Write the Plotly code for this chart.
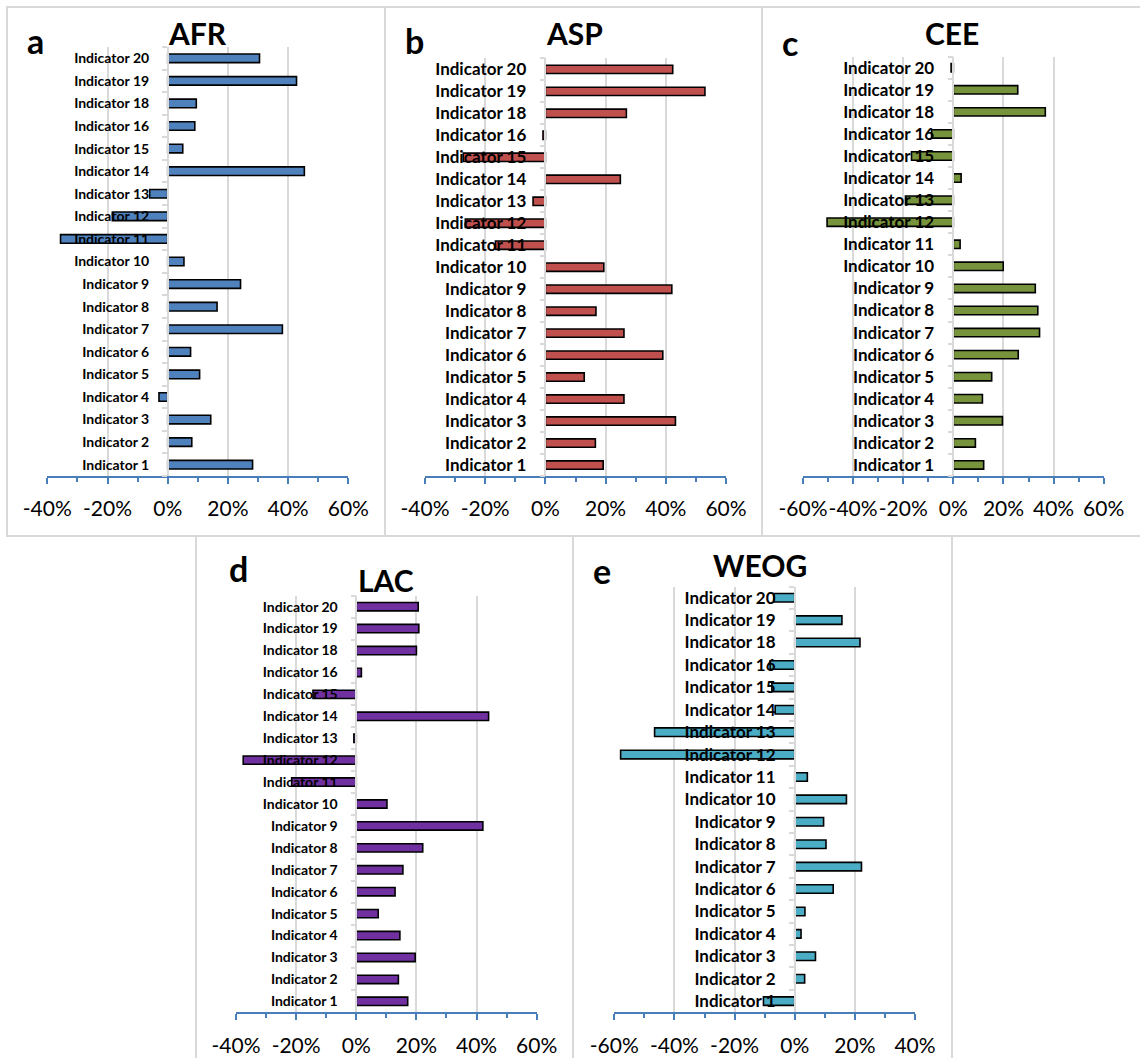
import plotly.graph_objects as go

W, H = 1140, 1058

categories = [f"Indicator {i}" for i in range(1, 17)] + ["Indicator 18", "Indicator 19", "Indicator 20"]

afr = [28.2, 8.0, 14.3, -2.9, 10.6, 7.6, 38.1, 16.4, 24.2, 5.4, -35.6, -18.4, -6.0, 45.4, 5.0, 9.0, 9.5, 42.8, 30.5]
asp = [19.2, 16.6, 43.2, 26.1, 12.9, 39.0, 26.1, 16.8, 42.0, 19.4, -16.6, -26.6, -4.1, 24.9, -27.3, -0.8, 26.9, 53.0, 42.3]
cee = [12.1, 8.8, 19.6, 11.6, 15.3, 25.9, 34.4, 33.7, 32.7, 19.9, 2.7, -50.4, -19.1, 3.1, -16.7, -8.7, 36.7, 25.7, -0.9]
lac = [17.1, 14.0, 19.6, 14.5, 7.3, 12.9, 15.5, 22.1, 42.1, 10.2, -21.5, -37.6, -0.8, 44.0, -14.4, 1.7, 20.0, 20.8, 20.6]
weog = [-10.4, 3.3, 6.9, 2.1, 3.4, 12.8, 22.2, 10.4, 9.6, 17.2, 4.2, -57.9, -46.6, -6.5, -7.6, -8.2, 21.7, 15.7, -6.9]

titles = ["AFR", "ASP", "CEE", "LAC", "WEOG"]
letters = ["a", "b", "c", "d", "e"]
x_ticks_ab = [-40, -20, 0, 20, 40, 60]
x_ticks_c = [-60, -40, -20, 0, 20, 40, 60]
x_ticks_e = [-60, -40, -20, 0, 20, 40]

series = [afr, asp, cee, lac, weog]
colors = ["#4F81BD", "#C0504D", "#77933C", "#7030A0", "#4BACC6"]
tickvals = [x_ticks_ab, x_ticks_ab, x_ticks_c, x_ticks_ab, x_ticks_e]

# panel geometry in pixels: plot area x0,x1,y0(top),y1(bottom)
geo = [
    (47.3, 348.3, 47.0, 476.0),
    (425.0, 726.0, 58.4, 476.0),
    (803.0, 1103.7, 56.7, 476.0),
    (236.0, 536.7, 595.7, 1012.3),
    (614.3, 915.0, 586.5, 1012.3),
]
label_size = [14, 17, 17, 14, 17]
title_pos = [(197, 33), (574, 33), (952, 33), (386, 580), (760, 565)]
letter_pos = [(35, 40), (414, 40), (790, 42), (238, 568), (602, 570)]
borders = [(7, 7, 385, 536), (385, 7, 762, 536), (762, 7, 1146, 536),
           (196, 536, 573, 1066), (573, 536, 952, 1066)]

FONT = "Lato"
AXBLUE = "#4A7EBB"
GRID = "#D9D9D9"

fig = go.Figure()
layout = dict(
    width=W, height=H, margin=dict(l=0, r=0, t=0, b=0, autoexpand=False),
    paper_bgcolor="white", plot_bgcolor="white", showlegend=False,
    font=dict(family=FONT, color="black"),
    annotations=[], shapes=[],
)

def px(x):
    return x / W

def py(y):
    return 1 - y / H

for i, vals in enumerate(series):
    n = "" if i == 0 else str(i + 1)
    x0, x1, y0, y1 = geo[i]
    tv = tickvals[i]
    r0, r1 = tv[0], tv[-1]
    fig.add_trace(go.Bar(
        x=vals, y=categories, orientation="h", width=0.38,
        marker=dict(color=colors[i], line=dict(color="black", width=1.6)),
        xaxis="x" + n, yaxis="y" + n, hoverinfo="x+y",
    ))
    zero_px = x0 + (0 - r0) / (r1 - r0) * (x1 - x0)
    layout["xaxis" + n] = dict(
        domain=[px(x0), px(x1)], range=[r0, r1], anchor="y" + n,
        tickvals=tv, ticktext=[f"{v}%" for v in tv], tickangle=0,
        showline=True, linecolor=AXBLUE, linewidth=2,
        ticks="outside", ticklen=6, tickwidth=2, tickcolor=AXBLUE,
        minor=dict(ticks="outside", ticklen=4, tickwidth=2, tickcolor=AXBLUE, dtick=10, showgrid=False),
        showgrid=True, gridcolor=GRID, gridwidth=1.5, zeroline=False,
        tickfont=dict(family=FONT, size=21, color="black"),
        ticklabelstandoff=7, fixedrange=True, automargin=False,
    )
    layout["yaxis" + n] = dict(
        domain=[py(y1), py(y0)], type="category", categoryorder="array",
        categoryarray=categories, range=[-0.5, len(categories) - 0.5],
        anchor="free", position=px(zero_px),
        showline=True, linecolor=GRID, linewidth=1.5,
        ticks="outside", tickson="boundaries", ticklen=5, tickcolor=GRID, tickwidth=1.5,
        showgrid=False, zeroline=False,
        tickfont=dict(family=FONT, size=label_size[i], color="black", weight="bold"),
        ticklabelstandoff=15, fixedrange=True, automargin=False,
    )
    tx, ty = title_pos[i]
    layout["annotations"].append(dict(
        text=f"<b>{titles[i]}</b>", x=px(tx), y=py(ty), xref="paper", yref="paper",
        showarrow=False, xanchor="center", yanchor="middle",
        font=dict(family=FONT, size=30, color="black"),
    ))
    lx, ly = letter_pos[i]
    layout["annotations"].append(dict(
        text=f"<b>{letters[i]}</b>", x=px(lx), y=py(ly), xref="paper", yref="paper",
        showarrow=False, xanchor="center", yanchor="middle",
        font=dict(family=FONT, size=34, color="black"),
    ))
    bx0, by0, bx1, by1 = borders[i]
    layout["shapes"].append(dict(
        type="rect", xref="paper", yref="paper",
        x0=px(bx0), x1=px(bx1), y0=py(by1), y1=py(by0),
        line=dict(color=GRID, width=2), layer="below",
    ))

fig.update_layout(**layout)
fig.write_html("out.html", config={"displayModeBar": False},
               post_script="document.body.style.margin='0';document.body.style.overflow='hidden';")
